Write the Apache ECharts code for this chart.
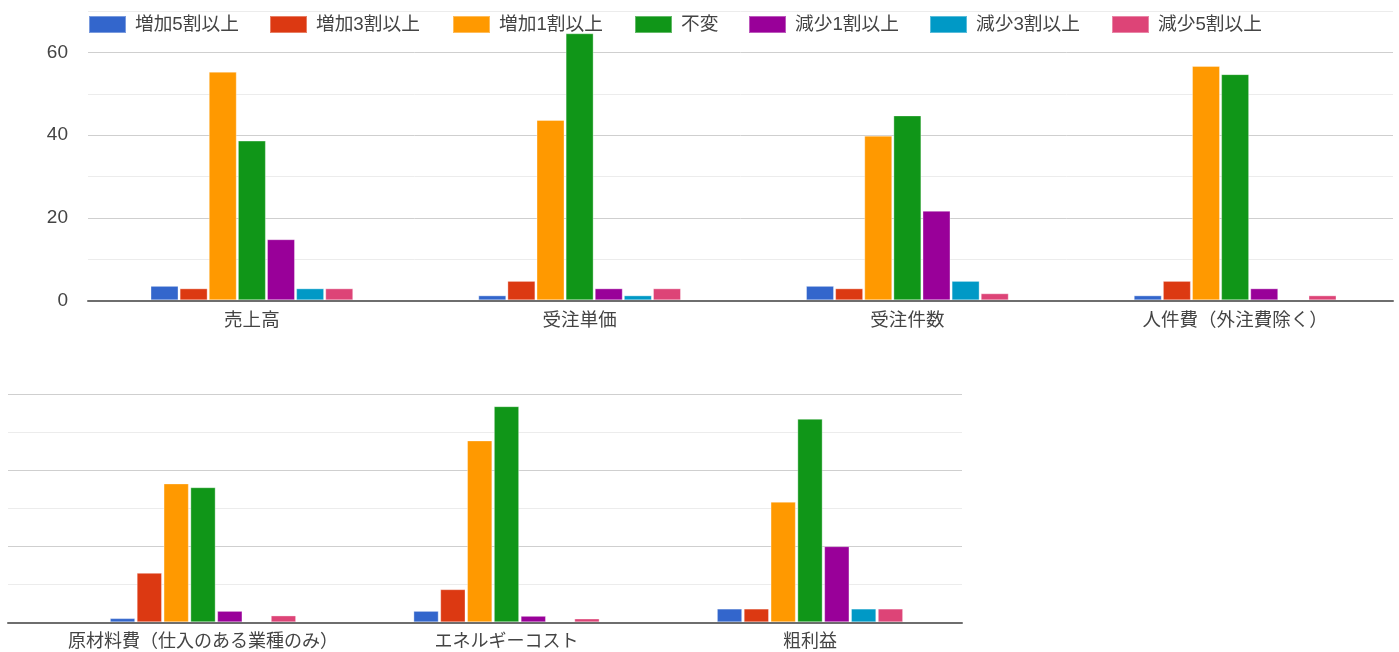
<!DOCTYPE html>
<html lang="ja">
<head>
<meta charset="utf-8">
<title>業況の変化</title>
<script src="https://cdn.jsdelivr.net/npm/echarts@6/dist/echarts.min.js"></script>
<style>
  html, body { margin: 0; padding: 0; background: #ffffff; }
  #chart { width: 1399px; height: 652px; }
</style>
</head>
<body>
<div id="chart"></div>
<script>
// Categories for the upper and lower panels
const topCategories = ['売上高', '受注単価', '受注件数', '人件費（外注費除く）'];
const bottomCategories = ['原材料費（仕入のある業種のみ）', 'エネルギーコスト', '粗利益'];

// Answer options (series) and their colours
const seriesNames = ['増加5割以上', '増加3割以上', '増加1割以上', '不変', '減少1割以上', '減少3割以上', '減少5割以上'];
const seriesColors = ['#3366cc', '#dc3912', '#ff9900', '#109618', '#990099', '#0099c6', '#dd4477'];

// Upper panel values, one array per answer option
const topUp50   = [3.5, 1.2, 3.5, 1.2];
const topUp30   = [2.9, 4.7, 2.9, 4.7];
const topUp10   = [55.4, 43.7, 39.9, 56.8];
const topSame   = [38.7, 64.7, 44.8, 54.8];
const topDown10 = [14.8, 2.9, 21.7, 2.9];
const topDown30 = [2.9, 1.2, 4.7, 0];
const topDown50 = [2.9, 2.9, 1.7, 1.2];

// Lower panel values, one array per answer option
const bottomUp50   = [1.1, 3.0, 3.6];
const bottomUp30   = [13.0, 8.7, 3.6];
const bottomUp10   = [36.5, 47.8, 31.7];
const bottomSame   = [35.5, 56.8, 53.5];
const bottomDown10 = [3.0, 1.7, 20.0];
const bottomDown30 = [0, 0, 3.6];
const bottomDown50 = [1.8, 1.0, 3.6];

// Labelled ticks on the upper value axis
const yTickLabels = [0, 20, 40, 60];

const topSeriesData = [topUp50, topUp30, topUp10, topSame, topDown10, topDown30, topDown50];
const bottomSeriesData = [bottomUp50, bottomUp30, bottomUp10, bottomSame, bottomDown10, bottomDown30, bottomDown50];

const fontFamily = "'Liberation Sans', 'Noto Sans CJK JP', sans-serif";
const textColor = '#444444';
const gridColors = ['#cfcfcf', '#ececec'];
const baseLine = { lineStyle: { color: '#6e6e6e', width: 2 } };

// Left edge of each legend entry along the top row
const legendLefts = [88, 269, 452, 634, 748, 929, 1111];

const chart = echarts.init(document.getElementById('chart'), null, { renderer: 'canvas' });

const series = [];
seriesNames.forEach((name, i) => {
  series.push({
    type: 'bar', name: name,
    xAxisIndex: 0, yAxisIndex: 0,
    data: topSeriesData[i],
    barWidth: 28, barGap: '4%',
    itemStyle: { color: seriesColors[i], borderColor: 'rgba(255,255,255,0.35)', borderWidth: 1 }
  });
});
seriesNames.forEach((name, i) => {
  series.push({
    type: 'bar', name: name,
    xAxisIndex: 2, yAxisIndex: 2,
    data: bottomSeriesData[i],
    barWidth: 25.3, barGap: '6%',
    itemStyle: { color: seriesColors[i], borderColor: 'rgba(255,255,255,0.35)', borderWidth: 1 }
  });
});

const legends = seriesNames.map((name, i) => ({
  data: [name],
  left: legendLefts[i], top: 15, padding: 0,
  icon: 'rect',
  itemWidth: 37, itemHeight: 17,
  textStyle: { fontSize: 18.7, color: textColor, fontFamily: fontFamily, padding: [0, 0, 0, 4] }
}));

chart.setOption({
  animation: false,
  backgroundColor: '#ffffff',
  textStyle: { fontFamily: fontFamily },
  legend: legends,
  grid: [
    { left: 88, width: 1314, top: 11.4, height: 288.9 },     // upper bars
    { left: 88, width: 1305, top: 11.4, height: 288.9 },     // upper gridlines and baseline
    { left: 51.25, width: 910.5, top: 394, height: 228.3 },  // lower bars
    { left: 8, width: 954, top: 394, height: 228.3 }         // lower gridlines and baseline
  ],
  xAxis: [
    {
      type: 'category', gridIndex: 0, data: topCategories,
      axisLine: { show: false }, axisTick: { show: false }, splitLine: { show: false },
      axisLabel: { fontSize: 18.5, color: textColor, margin: 11, interval: 0 }
    },
    {
      type: 'category', gridIndex: 1, data: [''], z: 5,
      axisLine: baseLine, axisTick: { show: false }, axisLabel: { show: false }
    },
    {
      type: 'category', gridIndex: 2, data: bottomCategories,
      axisLine: { show: false }, axisTick: { show: false }, splitLine: { show: false },
      axisLabel: { fontSize: 18, color: textColor, margin: 11, interval: 0 }
    },
    {
      type: 'category', gridIndex: 3, data: [''], z: 5,
      axisLine: baseLine, axisTick: { show: false }, axisLabel: { show: false }
    }
  ],
  yAxis: [
    { type: 'value', gridIndex: 0, min: 0, max: 70, interval: 10, show: false },
    {
      type: 'value', gridIndex: 1, min: 0, max: 70, interval: 10,
      axisLine: { show: false }, axisTick: { show: false },
      axisLabel: {
        fontSize: 19, color: textColor, margin: 20,
        formatter: v => (yTickLabels.includes(v) ? String(v) : '')
      },
      splitLine: { lineStyle: { color: gridColors, width: 1 } }
    },
    { type: 'value', gridIndex: 2, min: 0, max: 60, interval: 10, show: false },
    {
      type: 'value', gridIndex: 3, min: 0, max: 60, interval: 10,
      axisLine: { show: false }, axisTick: { show: false }, axisLabel: { show: false },
      splitLine: { lineStyle: { color: gridColors, width: 1 } }
    }
  ],
  series: series
});
</script>
</body>
</html>
